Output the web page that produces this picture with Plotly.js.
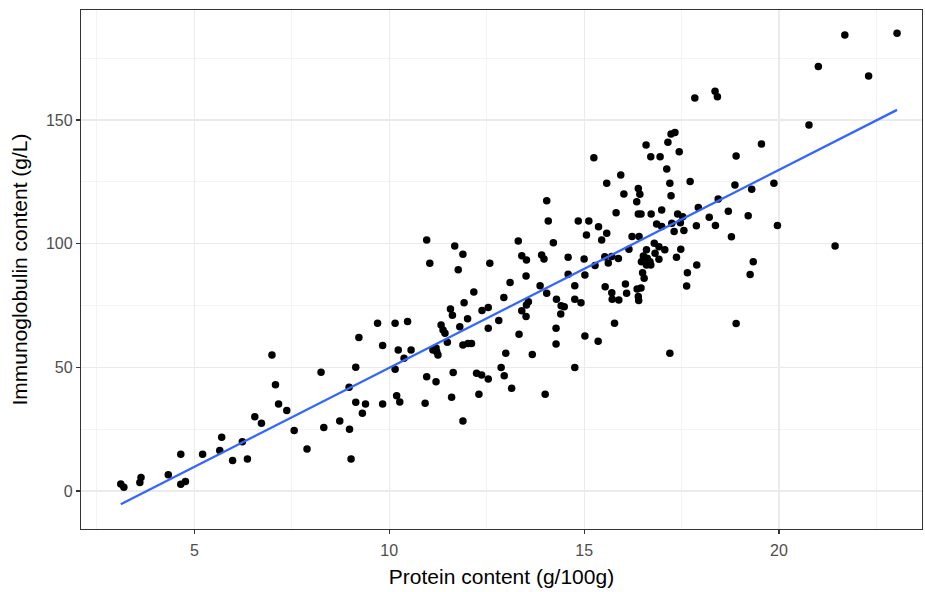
<!DOCTYPE html>
<html>
<head>
<meta charset="utf-8">
<script src="https://cdn.plot.ly/plotly-3.0.1.min.js"></script>
<style>html,body{margin:0;padding:0;background:#fff;}#chart{width:925px;height:592px;}</style>
</head>
<body>
<div id="chart"></div>
<script>
// Protein content (g/100g)
const protein = [3.11,3.19,3.60,3.63,4.33,4.65,4.65,4.77,5.21,5.65,5.70,5.98,6.23,6.36,6.55,6.72,6.99,7.08,7.16,7.37,
7.56,7.89,8.25,8.32,8.73,8.97,8.98,9.02,9.14,9.14,9.22,9.31,9.39,9.70,9.83,9.83,10.15,10.15,10.19,10.23,
10.27,10.38,10.47,10.56,10.92,10.96,10.96,11.04,11.12,11.20,11.22,11.25,11.20,11.33,11.38,11.43,11.49,11.57,11.62,11.60,
11.64,11.68,11.77,11.81,11.89,11.89,11.89,11.92,12.01,12.02,12.11,12.17,12.24,12.30,12.37,12.38,12.54,12.54,12.54,12.58,
12.81,12.87,12.94,12.95,12.99,13.10,13.14,13.31,13.33,13.40,13.40,13.51,13.51,13.52,13.52,13.57,13.67,13.87,13.91,13.97,
14.00,14.04,14.04,14.08,14.21,14.28,14.28,14.29,14.40,14.41,14.49,14.59,14.59,14.76,14.76,14.76,14.85,14.92,15.00,15.02,
15.02,15.06,15.12,15.25,15.28,15.36,15.37,15.45,15.53,15.54,15.58,15.58,15.62,15.71,15.71,15.72,15.78,15.82,15.88,15.89,
15.94,16.02,16.06,16.09,16.15,16.23,16.35,16.39,16.39,16.41,16.43,16.36,16.46,16.39,16.40,16.46,16.50,16.54,16.52,16.59,
16.60,16.62,16.47,16.69,16.71,16.60,16.71,16.72,16.80,16.82,16.86,16.92,16.92,16.95,16.99,16.99,17.07,17.12,17.15,17.20,
17.20,17.23,17.23,17.25,17.31,17.33,17.37,17.40,17.44,17.48,17.53,17.56,17.47,17.63,17.65,17.72,17.84,17.89,17.88,17.93,
18.21,18.36,18.42,18.37,18.44,18.70,18.78,18.87,18.90,18.90,19.21,19.26,19.30,19.34,19.55,19.87,19.96,20.77,21.01,21.44,
21.69,22.30,23.03];

// Immunoglobulin content (g/L)
const immunoglobulin = [2.8,1.5,3.4,5.4,6.5,14.8,2.7,3.8,14.8,16.3,21.7,12.3,19.9,12.9,30.0,27.4,55.0,42.9,35.2,32.5,
24.4,17.0,48.0,25.6,28.3,41.9,24.9,12.9,50.0,35.9,62.0,31.4,35.2,67.8,58.8,35.2,67.8,49.2,38.5,57.0,
36.0,53.7,68.5,57.0,35.5,101.5,46.2,92.1,57.0,57.8,56.2,55.0,44.2,67.1,65.1,63.8,60.1,73.6,71.0,37.9,
47.9,99.1,89.4,66.4,95.7,28.3,59.0,76.1,69.6,59.6,59.6,80.5,47.6,39.1,46.9,73.0,74.2,65.8,45.3,92.1,
68.9,49.9,78.2,46.6,55.7,84.3,41.5,101.1,63.4,95.1,72.9,86.9,70.5,93.4,75.2,76.5,55.2,83.0,95.4,93.8,
39.1,117.4,79.9,109.2,100.4,65.8,59.4,77.5,71.6,74.9,74.5,94.5,87.6,83.0,77.5,49.9,109.2,76.1,93.8,87.3,
62.7,103.5,109.2,134.7,91.2,60.5,106.8,101.5,94.7,82.6,124.4,104.2,92.2,94.8,80.1,77.5,67.8,112.5,94.0,77.2,
127.8,120.1,83.7,79.9,97.7,102.9,116.9,122.3,112.0,102.9,120.0,81.7,82.1,78.6,77.0,112.0,88.2,86.0,95.0,139.9,
97.5,94.1,92.7,92.7,91.4,91.4,135.2,112.0,100.2,96.1,108.0,98.8,93.7,135.2,113.6,106.9,97.5,130.2,141.0,124.4,
55.7,144.4,119.4,108.3,104.9,145.0,94.5,112.0,137.2,97.7,110.9,105.3,108.5,82.9,88.2,125.1,158.9,91.4,107.2,114.6,
110.7,161.6,159.4,107.3,118.1,113.1,102.8,123.7,67.7,135.5,111.3,87.5,122.0,92.7,140.3,124.4,107.3,148.0,171.6,99.1,
184.4,167.8,185.1];

// Linear fit (geom_smooth, method = lm): ends of the fitted line
const fitProtein = [3.11, 23.03];
const fitImmunoglobulin = [-5.4, 154.1];

const xTicks = [5, 10, 15, 20];
const yTicks = [0, 50, 100, 150];

const traces = [
  {
    type: 'scatter', mode: 'markers',
    x: protein, y: immunoglobulin,
    marker: {color: '#000000', size: 7.5, line: {width: 0}},
    hoverinfo: 'x+y', showlegend: false
  },
  {
    type: 'scatter', mode: 'lines',
    x: fitProtein, y: fitImmunoglobulin,
    line: {color: '#3366FF', width: 2.3},
    showlegend: false
  }
];

const axisCommon = {
  showgrid: true, gridcolor: '#EBEBEB', gridwidth: 1.2,
  zeroline: false,
  showline: true, mirror: true, linecolor: '#333333', linewidth: 1.2,
  ticks: 'outside', ticklen: 4, tickwidth: 1.2, tickcolor: '#333333',
  tickfont: {family: 'Liberation Sans, Arial, sans-serif', size: 16, color: '#4D4D4D'},
  automargin: false
};

const layout = {
  width: 925, height: 592,
  margin: {l: 81, r: 3, t: 10, b: 63},
  paper_bgcolor: '#FFFFFF', plot_bgcolor: '#FFFFFF',
  font: {family: 'Liberation Sans, Arial, sans-serif'},
  xaxis: Object.assign({}, axisCommon, {
    range: [2.09, 23.67],
    tickmode: 'array', tickvals: xTicks, ticktext: xTicks.map(String),
    ticklabelstandoff: 3,
    minor: {dtick: 2.5, tick0: 0, showgrid: true, gridcolor: '#F3F3F3', gridwidth: 1, ticks: ''},
    title: {text: 'Protein content (g/100g)', font: {size: 21, color: '#000000'}, standoff: 10}
  }),
  yaxis: Object.assign({}, axisCommon, {
    range: [-15.4, 194.5],
    tickmode: 'array', tickvals: yTicks, ticktext: yTicks.map(String),
    minor: {dtick: 25, tick0: 0, showgrid: true, gridcolor: '#F3F3F3', gridwidth: 1, ticks: ''},
    title: {text: 'Immunoglobulin content (g/L)', font: {size: 21, color: '#000000'}, standoff: 12}
  })
};

Plotly.newPlot('chart', traces, layout, {displayModeBar: false, staticPlot: true});
</script>
</body>
</html>
